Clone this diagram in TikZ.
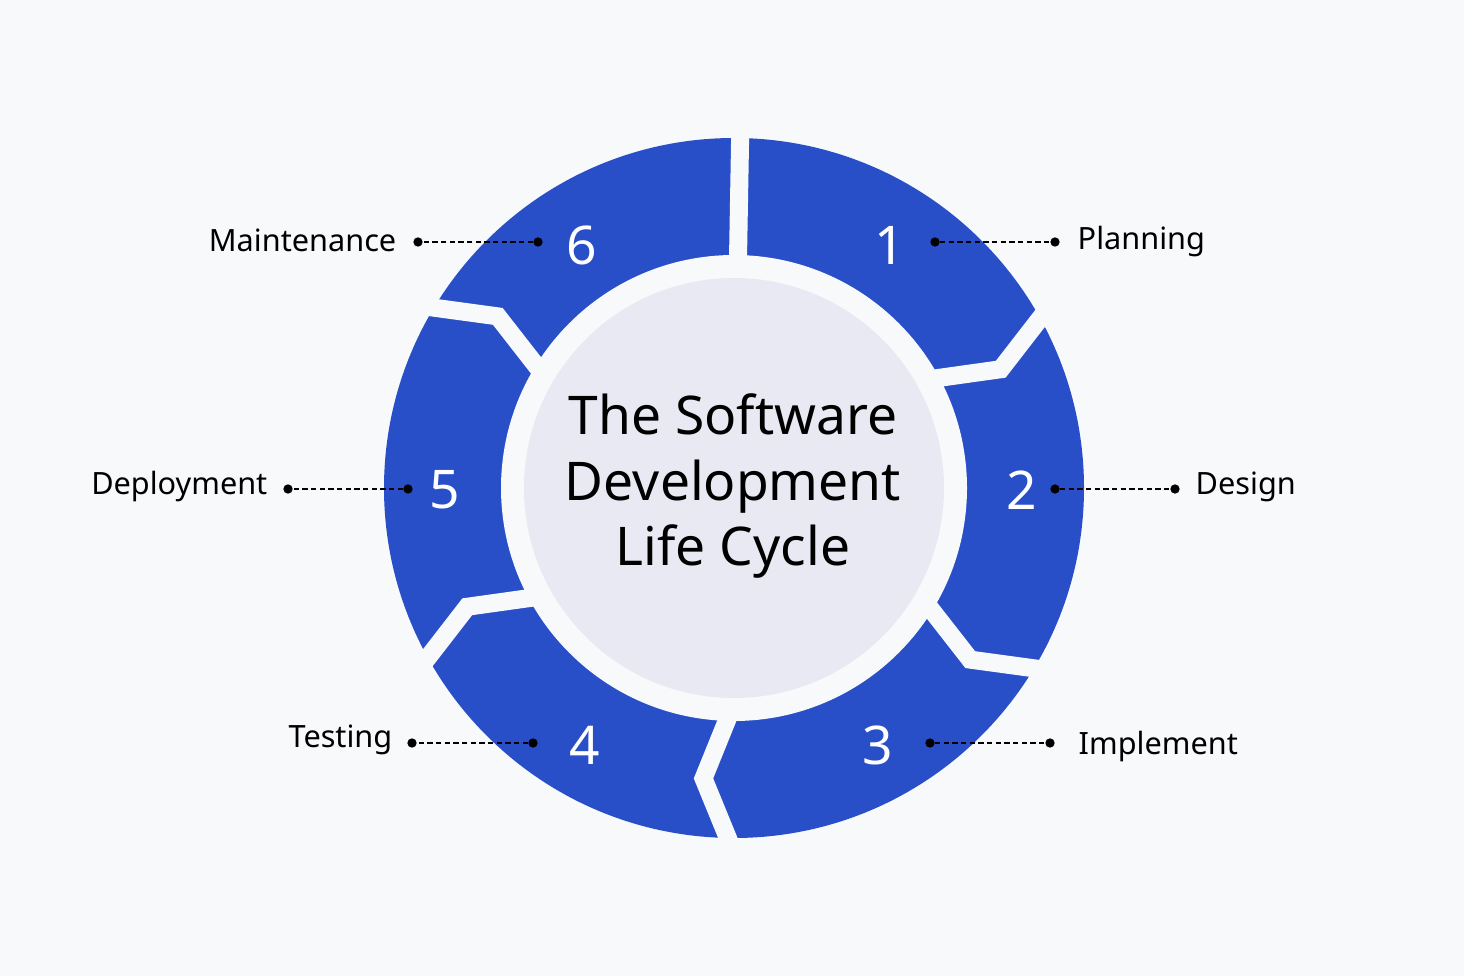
\documentclass[tikz,border=0pt]{standalone}
\usepackage{fontspec}
\usetikzlibrary{calc}
\setmainfont{Noto Sans}
\definecolor{bg}{HTML}{F8F9FB}
\definecolor{ring}{HTML}{284FC8}
\definecolor{core}{HTML}{E8E9F3}
\begin{document}
\begin{tikzpicture}[x=0.75pt,y=0.75pt,
  gap/.style={draw=bg,line width=13.5pt,line join=miter},
  num/.style={text=white,font=\fontsize{40}{44}\selectfont},
  lbl/.style={font=\fontsize{23}{26}\selectfont\bfseries},
  lead/.style={dashed,line width=0.9pt,dash pattern=on 4pt off 2.5pt},
  dot/.style={circle,fill=black,inner sep=0pt,minimum size=7pt}]
\fill[bg] (0,0) rectangle (1464,976);
\useasboundingbox (0,0) rectangle (1464,976);
\coordinate (c) at (734,488);
\fill[ring] (c) circle (350);
\fill[bg] (c) circle (233);
\fill[core] (c) circle (210);
\draw[gap] ($(c)+(89:215)$) -- ($(c)+(89:365)$);
\foreach \t in {30,-30,-90,-150,150}{
  \draw[gap] ($(c)+(\t:215)$) -- ($(c)+(\t-6:292)$) -- ($(c)+(\t:365)$);
}
\node[align=center,font=\fontsize{40}{49}\selectfont\bfseries] (title) at (733,490) {The Software\\Development\\Life Cycle};
\node[num] (n1) at (890,731) {1};
\node[num] (n2) at (1022,486) {2};
\node[num] (n3) at (878,231) {3};
\node[num] (n4) at (585,231) {4};
\node[num] (n5) at (445,486) {5};
\node[num] (n6) at (582,731) {6};
\node[dot] (a1) at (935,734) {}; \node[dot] (b1) at (1055,734) {};
\node[dot] (a2) at (1055,487) {}; \node[dot] (b2) at (1175,487) {};
\node[dot] (a3) at (930,233) {}; \node[dot] (b3) at (1050,233) {};
\node[dot] (a4) at (533,233) {}; \node[dot] (b4) at (412,233) {};
\node[dot] (a5) at (408,487) {}; \node[dot] (b5) at (288,487) {};
\node[dot] (a6) at (538,734) {}; \node[dot] (b6) at (418,734) {};
\foreach \i in {1,...,6}{\draw[lead] (a\i) -- (b\i);}
\node[lbl,anchor=west] (l1) at (1073,734) {Planning};
\node[lbl,anchor=west] (l2) at (1191,489) {Design};
\node[lbl,anchor=west] (l3) at (1074,229) {Implement};
\node[lbl,anchor=east] (l4) at (397,236) {Testing};
\node[lbl,anchor=east] (l5) at (272,489) {Deployment};
\node[lbl,anchor=east] (l6) at (401,736) {Maintenance};
\end{tikzpicture}
\end{document}
